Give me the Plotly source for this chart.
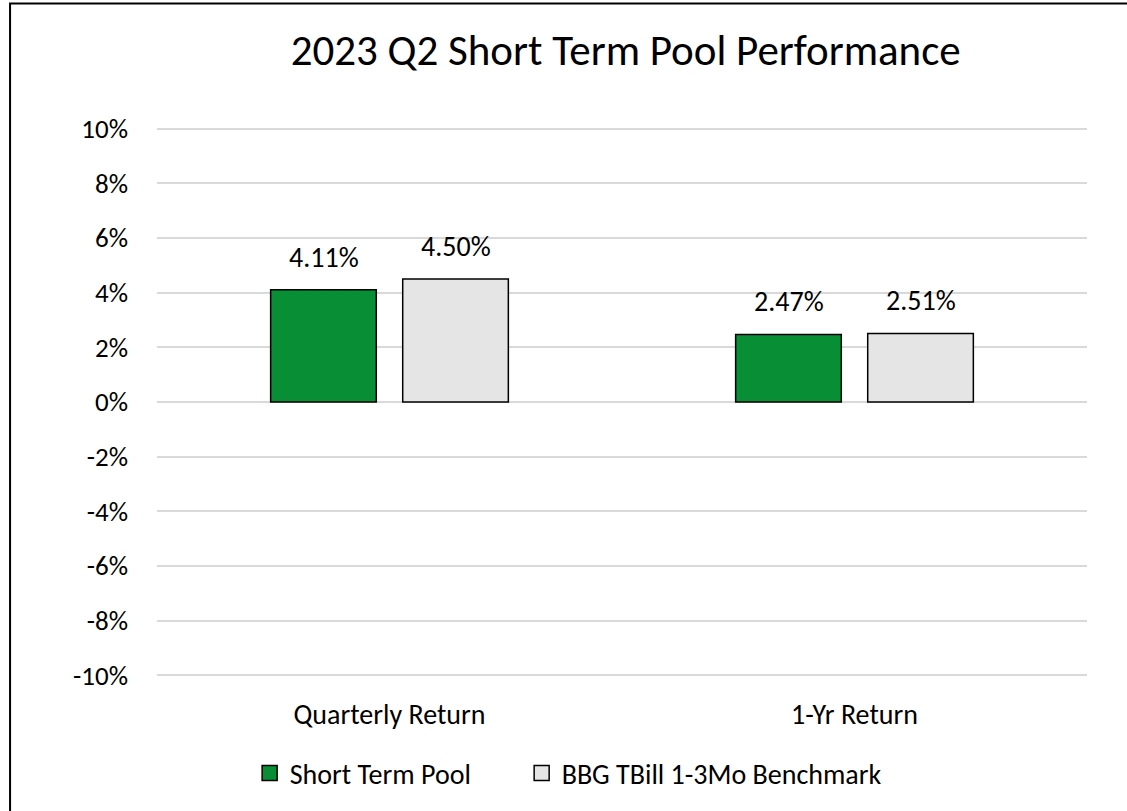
import plotly.graph_objects as go

categories = ["Quarterly Return", "1-Yr Return"]
pool_returns = [4.11, 2.47]
benchmark_returns = [4.50, 2.51]
series_names = ["Short Term Pool", "BBG TBill 1-3Mo Benchmark"]
y_ticks = [-10, -8, -6, -4, -2, 0, 2, 4, 6, 8, 10]
y_tick_text = [f"{v}%" for v in y_ticks]

GREEN = "#088f36"
GREY = "#e5e5e5"
FONT = "Carlito, Calibri, Lato, sans-serif"

fig = go.Figure()

legends = ["legend", "legend2"]
for name, vals, col, lg in [
    (series_names[0], pool_returns, GREEN, legends[0]),
    (series_names[1], benchmark_returns, GREY, legends[1]),
]:
    fig.add_bar(
        x=categories,
        y=vals,
        name=name,
        marker=dict(color=col, line=dict(color="black", width=1.5)),
        showlegend=False,
    )
    # legend entry with a bigger square
    fig.add_scatter(
        x=[None],
        y=[None],
        mode="markers",
        name=name,
        legend=lg,
        marker=dict(symbol="square", size=15, color=col, line=dict(color="black", width=1.5)),
    )

# value labels above the bars
for i, cat in enumerate(categories):
    for shift, v in [(-66, pool_returns[i]), (66, benchmark_returns[i])]:
        fig.add_annotation(
            x=cat,
            y=v,
            text=f"{v:.2f}%",
            showarrow=False,
            xshift=shift,
            yshift=13,
            yanchor="bottom",
            font=dict(size=28, color="black", family=FONT),
        )

# outer chart border (right/bottom run off the picture)
fig.add_shape(
    type="rect",
    xref="paper",
    yref="paper",
    x0=-0.158,
    x1=1.1,
    y0=-0.3,
    y1=1.1942,
    line=dict(color="black", width=2),
    fillcolor="rgba(0,0,0,0)",
)

leg_common = dict(
    orientation="h",
    xanchor="left",
    y=-0.147,
    yanchor="middle",
    font=dict(size=28, family=FONT),
    itemclick=False,
    bgcolor="rgba(0,0,0,0)",
)

fig.update_layout(
    width=1127,
    height=811,
    margin=dict(l=157, r=40, t=115.35, b=122.35),
    plot_bgcolor="white",
    paper_bgcolor="white",
    font=dict(family=FONT, color="black", size=28),
    title=dict(
        text="2023 Q2 Short Term Pool Performance",
        x=0.504,
        xref="paper",
        xanchor="center",
        y=1 - 50 / 811,
        yref="container",
        yanchor="middle",
        font=dict(size=43, color="black", family=FONT),
    ),
    barmode="group",
    bargap=0.432,
    bargroupgap=0.2,
    legend=dict(x=0.0996, **leg_common),
    legend2=dict(x=0.3921, **leg_common),
)

fig.update_yaxes(
    range=[-10.5, 10.5],
    tickmode="array",
    tickvals=y_ticks,
    ticktext=y_tick_text,
    showgrid=True,
    gridcolor="#d9d9d9",
    gridwidth=1.5,
    zeroline=True,
    zerolinecolor="#d9d9d9",
    zerolinewidth=1.5,
    showline=False,
    ticks="",
    ticklabelstandoff=28,
    tickfont=dict(size=27),
)
fig.update_xaxes(
    showgrid=False,
    showline=False,
    ticks="",
    ticklabelstandoff=6,
    tickfont=dict(size=28),
)

fig.write_html(
    "out.html",
    config={"displayModeBar": False},
    post_script="document.body.style.margin='0';",
)
